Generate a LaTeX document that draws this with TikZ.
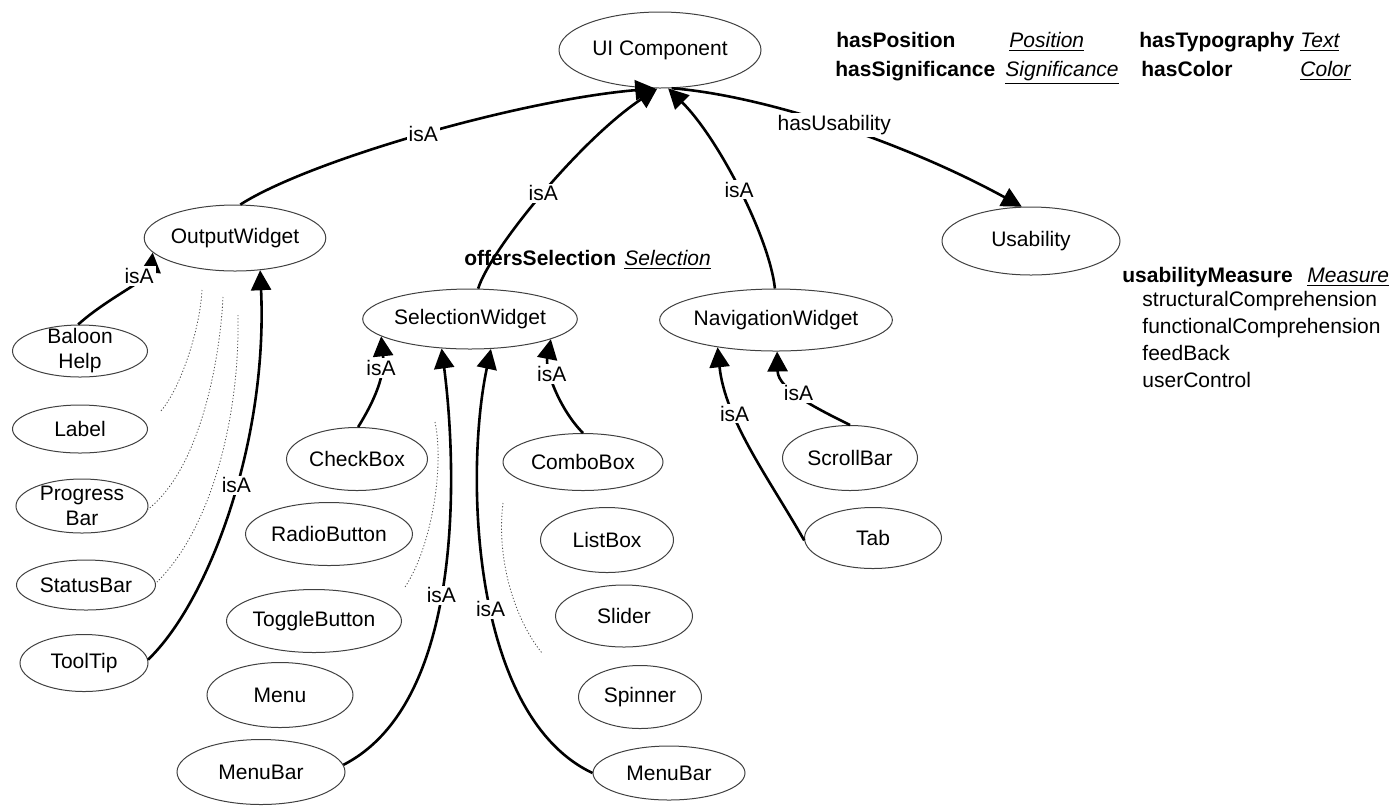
\documentclass[tikz,border=0pt]{standalone}
\usepackage{fontspec}
\setmainfont{Liberation Sans}
\usetikzlibrary{shapes.geometric,arrows.meta}
\begin{document}
\begin{tikzpicture}[x=0.5pt,y=-0.5pt,
  font=\fontsize{10.5}{12.5}\selectfont,
  ov/.style={ellipse, draw=black!75, line width=0.5pt, inner sep=0pt, align=center},
  two/.style={inner ysep=-4pt},
  isa/.style={line width=1.3pt, -{Triangle[length=10pt,width=10pt]}},
  lbl/.style={fill=white, inner sep=1pt},
  etc/.style={draw=black!70, line width=0.4pt, dash pattern=on 0.6pt off 1pt},
  prop/.style={anchor=base west, inner sep=0pt, font=\fontsize{10.5}{12.5}\selectfont\bfseries},
  rng/.style={anchor=base west, inner sep=0pt, font=\fontsize{10.5}{12.5}\selectfont\itshape},
  txt/.style={anchor=base west, inner sep=0pt}]
\useasboundingbox (0,0) rectangle (1397,805);

% nodes
\node[ov, minimum width=101pt, minimum height=38pt] (ui) at (660,50) {UI Component};
\node[ov, minimum width=75pt, minimum height=33pt] (ow) at (235,238) {OutputWidget};
\node[ov, minimum width=89pt, minimum height=34pt] (usa) at (1031,241) {Usability};
\node[ov, minimum width=103pt, minimum height=30pt] (sw) at (470,319) {SelectionWidget};
\node[ov, minimum width=114pt, minimum height=31pt] (nw) at (776,320) {NavigationWidget};

\node[ov, two, minimum width=67.5pt, minimum height=26pt] (bh) at (80,351) {Baloon\\Help};
\node[ov, minimum width=67.5pt, minimum height=24pt] (lab) at (80,429) {Label};
\node[ov, two, minimum width=66pt, minimum height=27pt] (pb) at (82,506) {Progress\\Bar};
\node[ov, minimum width=69.5pt, minimum height=25pt] (stb) at (86,585) {StatusBar};
\node[ov, minimum width=64pt, minimum height=28.5pt] (tt) at (84,663) {ToolTip};

\node[ov, minimum width=70.5pt, minimum height=31.5pt] (cb) at (357,459) {CheckBox};
\node[ov, minimum width=83.5pt, minimum height=31.5pt] (rb) at (329,534) {RadioButton};
\node[ov, minimum width=87.5pt, minimum height=31.5pt] (tgb) at (314,621) {ToggleButton};
\node[ov, minimum width=73pt, minimum height=32.5pt] (menu) at (280,695) {Menu};
\node[ov, minimum width=84pt, minimum height=32.5pt] (mba) at (261,772) {MenuBar};

\node[ov, minimum width=80pt, minimum height=28.5pt] (combo) at (583,462) {ComboBox};
\node[ov, minimum width=66.5pt, minimum height=32.5pt] (lb) at (607,540) {ListBox};
\node[ov, minimum width=68.5pt, minimum height=31pt] (sl) at (624,616) {Slider};
\node[ov, minimum width=61.5pt, minimum height=31.5pt] (sp) at (640,697) {Spinner};
\node[ov, minimum width=76pt, minimum height=27pt] (mbb) at (669,773) {MenuBar};

\node[ov, minimum width=67.5pt, minimum height=32.5pt] (sc) at (850,458) {ScrollBar};
\node[ov, minimum width=68.5pt, minimum height=30.5pt] (tab) at (873,538) {Tab};

% connectors
\draw[isa] (ow.81) .. controls (310,160) and (520,100) .. node[lbl,pos=.5]{isA} (ui.263);
\draw[isa] (sw.75) .. controls (490,250) and (580,140) .. node[lbl,pos=.5]{isA} (ui.266);
\draw[isa] (nw.92) .. controls (770,240) and (720,140) .. node[lbl,pos=.5]{isA} (ui.282);
\draw[isa] (ui.287) .. controls (760,95) and (900,140) .. node[lbl,pos=.5]{hasUsability} (usa.105);

\draw[isa] (bh.94) .. controls (105,300) and (150,278) .. node[lbl,pos=.68]{isA} (ow.190);
\draw[isa] (tt.3) .. controls (210,600) and (268,440) .. node[lbl,pos=.55]{isA} (ow.308);

\draw[isa] (cb.88) .. controls (375,400) and (385,375) .. node[lbl,pos=.7]{isA} (sw.191);
\draw[isa] (combo.90) .. controls (560,410) and (545,370) .. node[lbl,pos=.65]{isA} (sw.346);
\draw[isa] (mba.5) .. controls (470,700) and (455,450) .. node[lbl,pos=.45]{isA} (sw.226);
\draw[isa] (mbb.180) .. controls (470,715) and (465,470) .. node[lbl,pos=.45]{isA} (sw.305);

\draw[isa] (tab.182) .. controls (770,480) and (725,420) .. node[lbl,pos=.68]{isA} (nw.205);
\draw[isa] (sc.90) .. controls (820,410) and (778,390) .. node[lbl,pos=.55]{isA} (nw.272);

% dotted "etc." arcs
\draw[etc] (202,290) .. controls (200,330) and (180,390) .. (160,412);
\draw[etc] (223,297) .. controls (220,360) and (200,470) .. (147,510);
\draw[etc] (238,315) .. controls (240,420) and (210,530) .. (157,582);
\draw[etc] (435,422) .. controls (445,470) and (430,550) .. (405,587);
\draw[etc] (503,503) .. controls (496,560) and (515,620) .. (542,653);

% property texts
\node[prop] (p1) at (836,47) {hasPosition};
\node[rng] (r1) at (1009,47) {\underline{Position}};
\node[prop] (p2) at (1139,47) {hasTypography};
\node[rng] (r2) at (1300,47) {\underline{Text}};
\node[prop] (p3) at (835,76) {hasSignificance};
\node[rng] (r3) at (1005,76) {\underline{Significance}};
\node[prop] (p4) at (1141,76) {hasColor};
\node[rng] (r4) at (1300,76) {\underline{Color}};

\node[prop] (p5) at (464,265) {offersSelection};
\node[rng] (r5) at (624,265) {\underline{Selection}};

\node[prop] (p6) at (1122,282) {usabilityMeasure};
\node[rng] (r6) at (1307,282) {\underline{Measure}};
\node[txt] (m1) at (1142,306) {structuralComprehension};
\node[txt] (m2) at (1142,333) {functionalComprehension};
\node[txt] (m3) at (1142,360) {feedBack};
\node[txt] (m4) at (1142,387) {userControl};
\end{tikzpicture}
\end{document}
